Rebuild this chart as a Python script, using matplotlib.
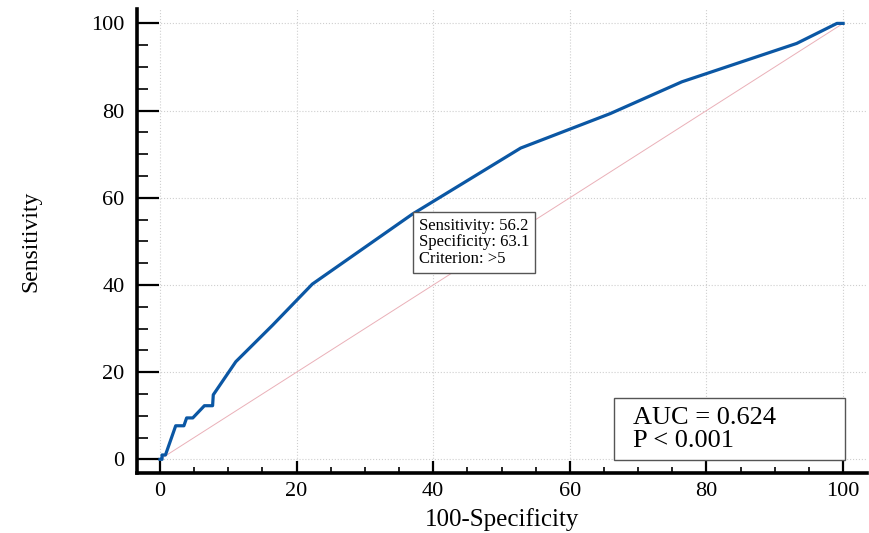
import matplotlib
matplotlib.use('Agg')
import matplotlib.pyplot as plt
from matplotlib.patches import Rectangle
from matplotlib.ticker import MultipleLocator

plt.rcParams['font.family'] = ['Liberation Serif', 'DejaVu Serif']

# ROC curve (100-Specificity, Sensitivity)
fpr = [0, 0.3, 0.3, 0.8, 2.3, 3.5, 3.9, 4.8, 6.5, 7.7, 7.8, 11.1, 16.5, 22.3,
       36.9, 52.8, 65.9, 76.4, 93.2, 99.1, 100]
tpr = [0, 0, 1.0, 1.0, 7.7, 7.7, 9.5, 9.5, 12.3, 12.3, 14.8, 22.4, 30.8, 40.2,
       56.2, 71.4, 79.3, 86.6, 95.4, 100, 100]
ref_x = [0, 100]
ref_y = [0, 100]

crit_x, crit_y = 36.9, 56.2
crit_text = 'Sensitivity: 56.2\nSpecificity: 63.1\nCriterion: >5'
auc_text = 'AUC = 0.624\nP < 0.001'

fig = plt.figure(figsize=(8.69, 5.33), dpi=100)
ax = fig.add_axes([0.1577, 0.1131, 0.840, 0.870])

ax.plot(ref_x, ref_y, color='#eab0b8', lw=0.7, zorder=2)
ax.plot(fpr, tpr, color='#0b57a4', lw=2.3, solid_joinstyle='round', zorder=3)

ax.set_xlim(-3.36, 103.5)
ax.set_ylim(-3.07, 103.3)
ax.xaxis.set_major_locator(MultipleLocator(20))
ax.xaxis.set_minor_locator(MultipleLocator(5))
ax.yaxis.set_major_locator(MultipleLocator(20))
ax.yaxis.set_minor_locator(MultipleLocator(5))

for s in ['top', 'right']:
    ax.spines[s].set_visible(False)
for s in ['left', 'bottom']:
    ax.spines[s].set_linewidth(2.6)

ax.tick_params(axis='x', which='major', direction='in', length=9, width=1.6, pad=7, labelsize=16)
ax.tick_params(axis='x', which='minor', direction='in', length=4.5, width=1.2)
ax.tick_params(axis='y', which='major', direction='in', length=16, width=1.6, pad=9, labelsize=16)
ax.tick_params(axis='y', which='minor', direction='in', length=8, width=1.2)

ax.grid(True, which='major', ls=':', color='#cfcfcf', lw=0.8, zorder=0)

ax.set_xlabel('100-Specificity', fontsize=18, labelpad=5)
ax.set_ylabel('Sensitivity', fontsize=17, labelpad=36)

ax.text(crit_x + 1.0, crit_y - 0.8, crit_text, fontsize=12, va='top', ha='left',
        linespacing=1.05, zorder=4,
        bbox=dict(boxstyle='square,pad=0.35', fc='white', ec='#555555', lw=1))

# AUC box
ax.add_patch(Rectangle((66.5, -0.2), 33.8, 14.3, fc='white', ec='#555555', lw=1, zorder=4))
ax.text(69.3, 12.0, auc_text, fontsize=19, va='top', ha='left', linespacing=1.05,
        zorder=5)

fig.savefig('out.png', dpi=100)
